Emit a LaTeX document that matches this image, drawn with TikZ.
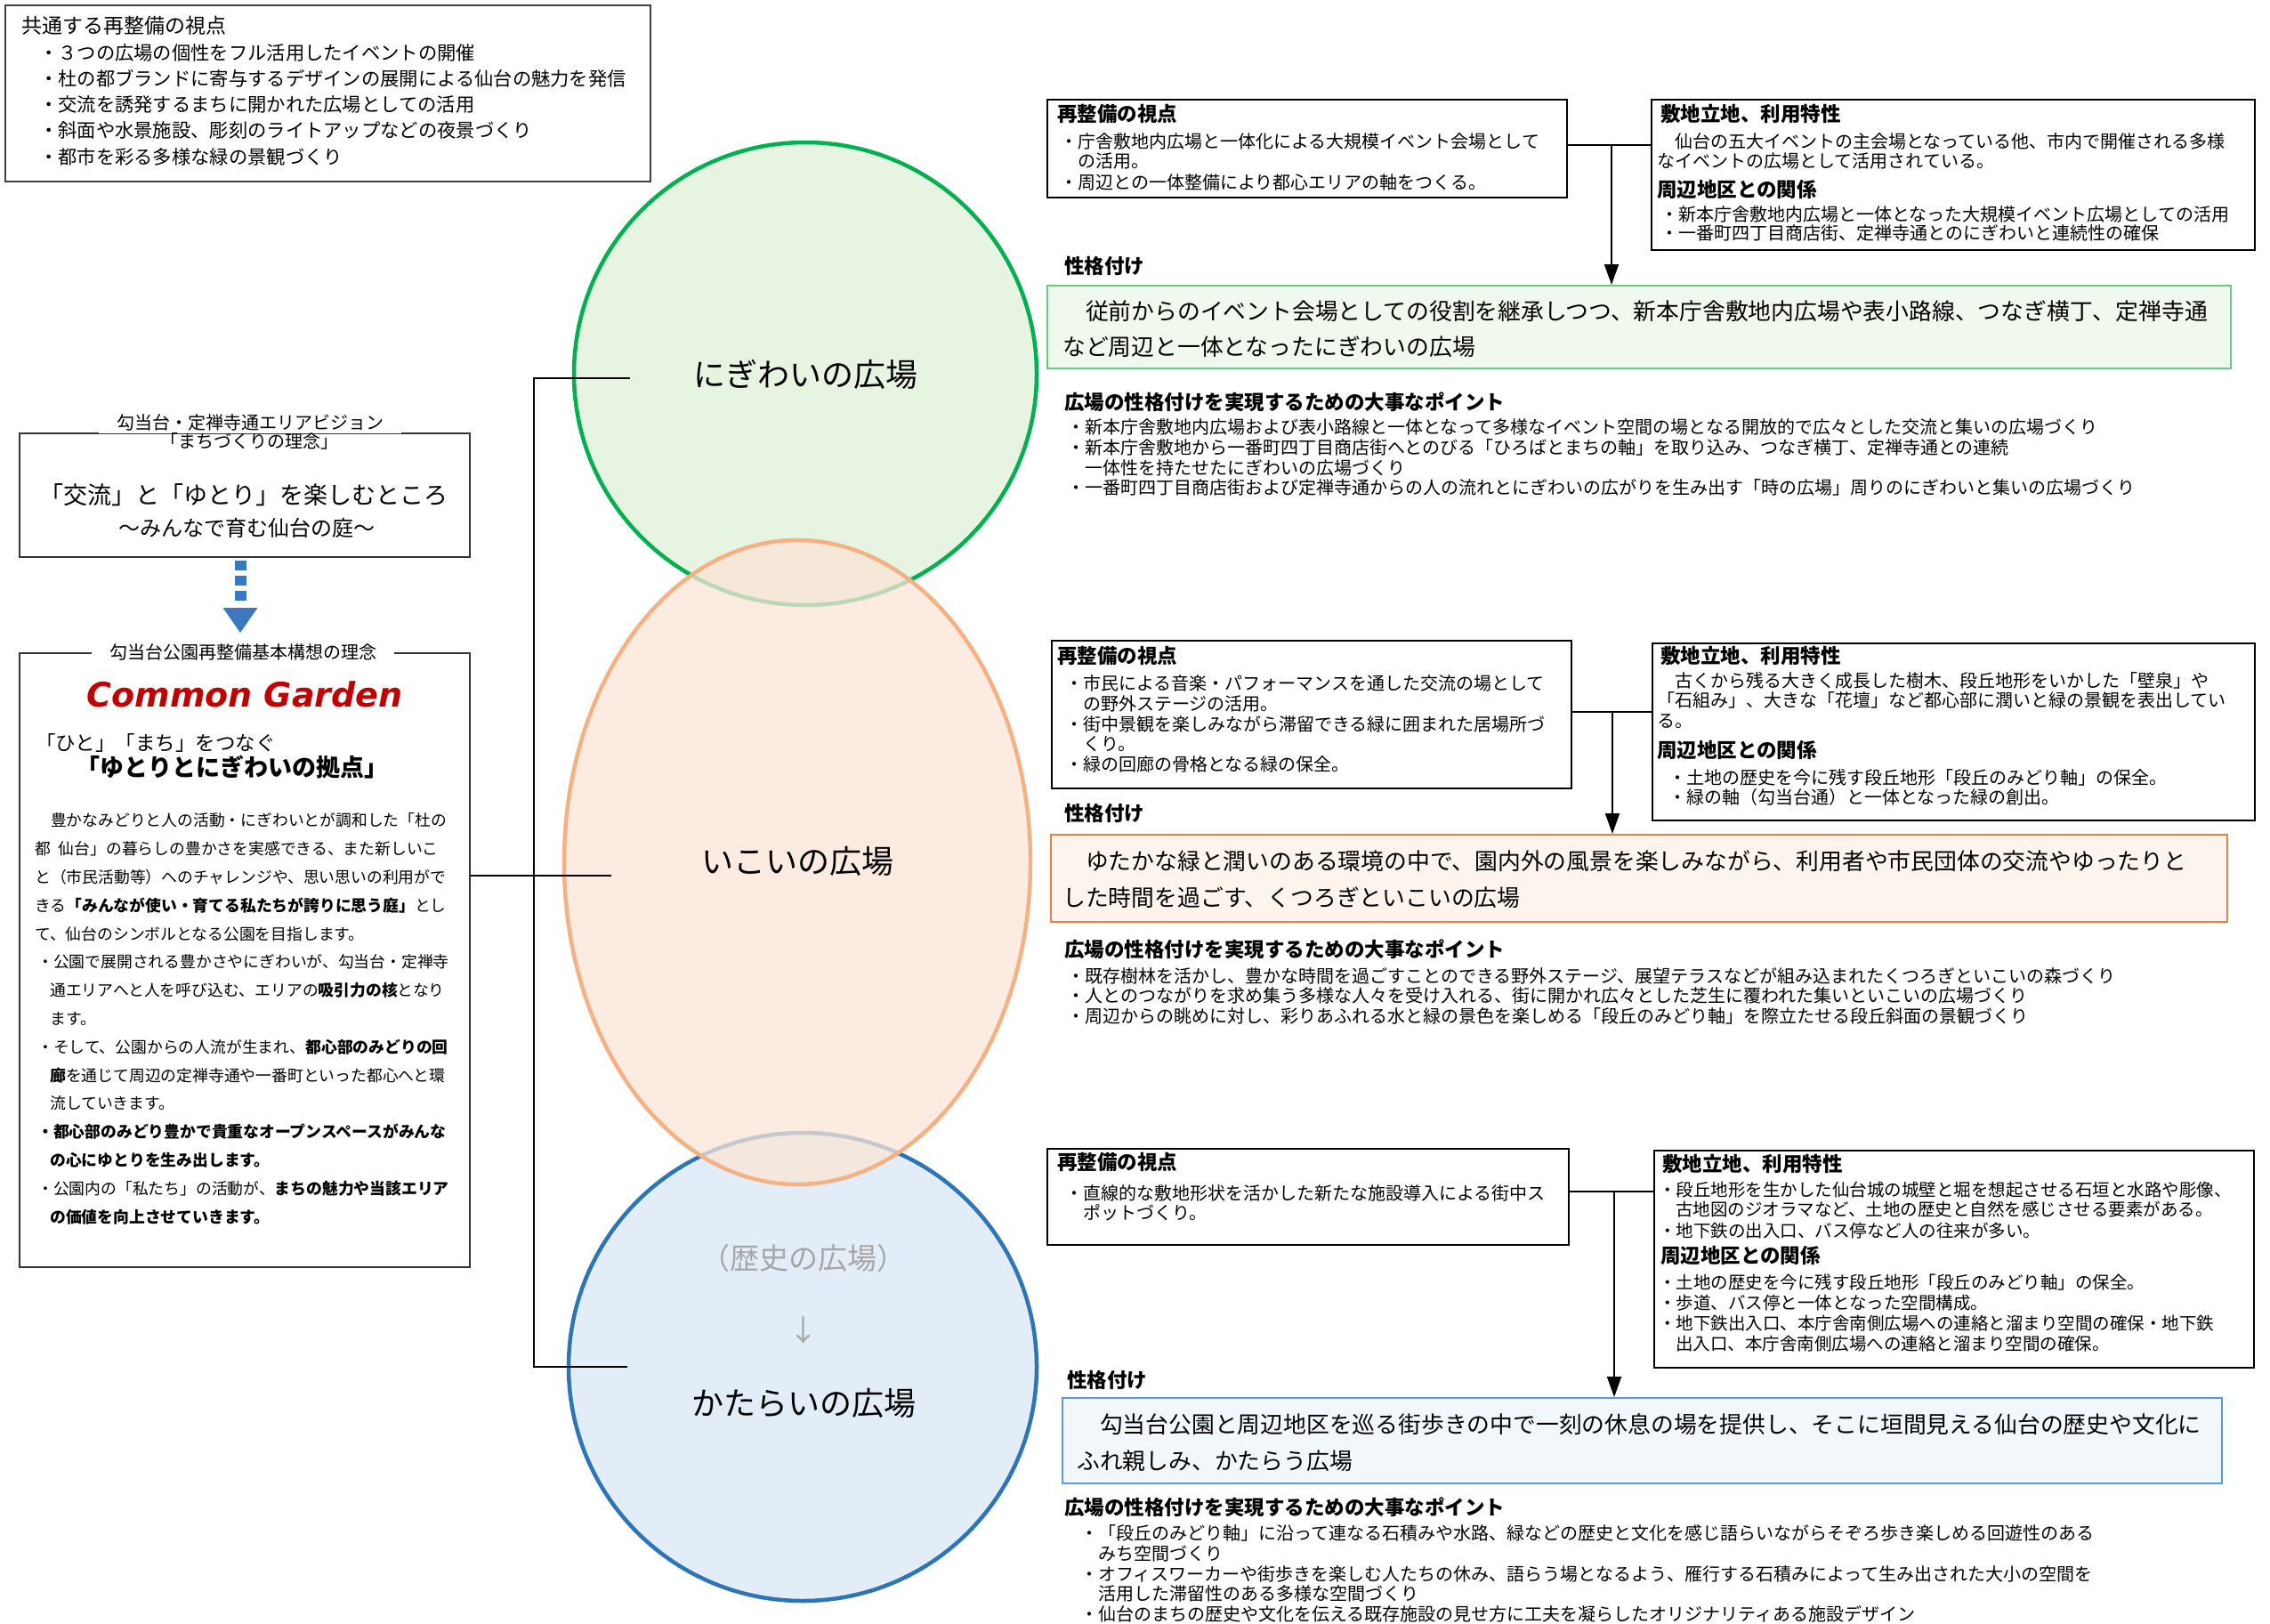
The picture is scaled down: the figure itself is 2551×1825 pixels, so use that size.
\documentclass[tikz,border=0pt]{standalone}
\usepackage{fontspec}
\setmainfont{Noto Sans CJK JP}
\newfontfamily\cgfont{DejaVu Sans}
\usetikzlibrary{arrows.meta}
\definecolor{gStroke}{HTML}{00B050}
\definecolor{gFill}{HTML}{E8F4E2}
\definecolor{oStroke}{HTML}{F4B183}
\definecolor{oFill}{HTML}{FBE5D6}
\definecolor{bStroke}{HTML}{2E75B6}
\definecolor{bFill}{HTML}{E3EDF8}
\definecolor{gBoxLine}{HTML}{6CC58A}
\definecolor{gBoxFill}{HTML}{F1F8EE}
\definecolor{oBoxLine}{HTML}{E5843F}
\definecolor{oBoxFill}{HTML}{FDF4EE}
\definecolor{bBoxLine}{HTML}{5B9BD5}
\definecolor{bBoxFill}{HTML}{F2F7FC}
\definecolor{dashBlue}{HTML}{3A78C2}
\definecolor{histGray}{HTML}{A6A6A6}
\definecolor{cgRed}{HTML}{C00000}
\newcounter{lnc}
\newcommand\Ln[4]{\stepcounter{lnc}\node[ln,#1] (ln\arabic{lnc}) at (#2,#3) {#4};}
\begin{document}
\begin{tikzpicture}[x=1pt,y=-1pt,
 ln/.style={anchor=base west,inner sep=0pt},
 cen/.style={anchor=base},
 fTLh/.style={font=\fontsize{23}{23}\selectfont,yshift=-8.7pt},
 fTL/.style={font=\fontsize{21.3}{21}\selectfont,yshift=-8.1pt},
 fVt/.style={font=\fontsize{20}{20}\selectfont,yshift=-7.6pt},
 fVm/.style={font=\fontsize{27}{27}\selectfont,yshift=-10.3pt},
 fVs/.style={font=\fontsize{24}{24}\selectfont,yshift=-9.1pt},
 fCa/.style={font=\fontsize{22.5}{22}\selectfont,yshift=-8.6pt},
 fCb/.style={font=\fontsize{27}{27}\selectfont\bfseries,yshift=-10.3pt},
 fCB/.style={font=\fontsize{17.8}{18}\selectfont,yshift=-6.8pt},
 fCir/.style={font=\fontsize{36}{36}\selectfont,yshift=-13.7pt},
 fHis/.style={font=\fontsize{33}{33}\selectfont,text=histGray,yshift=-12.5pt},
 fH/.style={font=\fontsize{22.5}{22}\selectfont\bfseries,yshift=-8.6pt},
 fR/.style={font=\fontsize{20}{20}\selectfont,yshift=-7.6pt},
 fRs/.style={font=\fontsize{19.5}{20}\selectfont,yshift=-7.4pt},
 fBox/.style={font=\fontsize{25.8}{26}\selectfont,yshift=-9.8pt},
 pbox/.style={draw=black,line width=1.8pt,fill=white,anchor=north west,inner sep=0pt},
 titlebg/.style={fill=white,inner xsep=20pt,inner ysep=3pt},
 conn/.style={draw=black,line width=2pt},
 arr/.style={-{Triangle[width=16pt,length=23pt]}}
]
\useasboundingbox (0,0) rectangle (2551,1825);
\fill[white] (0,0) rectangle (2551,1825);

% ---------- circles ----------
\draw[draw=gStroke,fill=gFill,line width=4.5pt] (905,420) circle[radius=260pt];
\draw[draw=bStroke,fill=bFill,line width=4.5pt] (902,1536) circle[radius=263pt];
\draw[draw=oStroke,fill=oFill,fill opacity=0.75,line width=4.5pt] (896,969) ellipse[x radius=262pt,y radius=362pt];

% ---------- left column boxes ----------
\node[pbox,draw=black!75,minimum width=725pt,minimum height=198pt] (common) at (5,5) {};
\node[pbox,draw=black!80,minimum width=506pt,minimum height=139pt] (vision) at (21,486) {};
\node[pbox,draw=black!80,minimum width=506pt,minimum height=690pt] (concept) at (21,733) {};

% ---------- right panel boxes ----------
\node[pbox,minimum width=584pt,minimum height=110pt] (A1) at (1176,111) {};
\node[pbox,minimum width=678pt,minimum height=169pt] (B1) at (1855,111) {};
\node[pbox,draw=gBoxLine,fill=gBoxFill,minimum width=1330pt,minimum height=93pt] (G1) at (1176,320) {};
\node[pbox,minimum width=584pt,minimum height=166pt] (A2) at (1181,719) {};
\node[pbox,minimum width=677pt,minimum height=199pt] (B2) at (1856,722) {};
\node[pbox,draw=oBoxLine,fill=oBoxFill,minimum width=1322pt,minimum height=98pt] (O2) at (1180,937) {};
\node[pbox,minimum width=586pt,minimum height=108pt] (A3) at (1176,1290) {};
\node[pbox,minimum width=674pt,minimum height=244pt] (B3) at (1858,1292) {};
\node[pbox,draw=bBoxLine,fill=bBoxFill,minimum width=1303pt,minimum height=96pt] (Bl3) at (1193,1570) {};

% ---------- connectors ----------
\coordinate (bt) at (600,425);
\coordinate (bb) at (600,1536);
\coordinate (et) at (708,425);
\coordinate (eb) at (705,1536);
\coordinate (em) at (687,984);
\draw[conn] (et) -- (bt) -- (bb) -- (eb);
\draw[conn] (concept.east |- em) -- (em);

\coordinate (j1) at (1811,163);
\draw[conn] (j1 -| A1.east) -- (j1 -| B1.west);
\draw[conn,arr] (j1) -- (j1 |- G1.north);
\coordinate (j2) at (1812,800);
\draw[conn] (j2 -| A2.east) -- (j2 -| B2.west);
\draw[conn,arr] (j2) -- (j2 |- O2.north);
\coordinate (j3) at (1814,1339);
\draw[conn] (j3 -| A3.east) -- (j3 -| B3.west);
\draw[conn,arr] (j3) -- (j3 |- Bl3.north);

% blue dashed arrow
\coordinate (da) at (270,630);
\coordinate (db) at (270,675);
\coordinate (dc) at (270,711);
\draw[draw=dashBlue,line width=13pt,dash pattern=on 11pt off 6pt] (da) -- (db);
\fill[dashBlue] ([xshift=-19.5pt]dc |- 0,683) -- ([xshift=19.5pt]dc |- 0,683) -- (dc) -- cycle;

% ---------- common box text ----------
\Ln{fTLh}{24}{29}{共通する再整備の視点}
\Ln{fTL}{44}{59}{・３つの広場の個性をフル活用したイベントの開催}
\Ln{fTL}{44}{88}{・杜の都ブランドに寄与するデザインの展開による仙台の魅力を発信}
\Ln{fTL}{44}{117}{・交流を誘発するまちに開かれた広場としての活用}
\Ln{fTL}{44}{146}{・斜面や水景施設、彫刻のライトアップなどの夜景づくり}
\Ln{fTL}{44}{176}{・都市を彩る多様な緑の景観づくり}

% ---------- vision ----------
\node[ln,cen,fVt,titlebg] (vt1) at (281,475) {勾当台・定禅寺通エリアビジョン};
\Ln{cen,fVt}{280}{496}{「まちづくりの理念」}
\Ln{cen,fVm}{274}{556}{「交流」と「ゆとり」を楽しむところ}
\Ln{cen,fVs}{277}{593}{～みんなで育む仙台の庭～}

% ---------- concept ----------
\node[ln,cen,fVt,titlebg] (ct) at (273,733) {勾当台公園再整備基本構想の理念};
\node[anchor=base,inner sep=0pt,font=\cgfont\fontsize{38}{38}\selectfont\bfseries\itshape,text=cgRed] (cg) at (275,794) {Common Garden};
\Ln{fCa}{40}{835}{「ひと」「まち」をつなぐ}
\Ln{fCb}{85}{862}{「ゆとりとにぎわいの拠点」}
\Ln{fCB}{39}{922}{　豊かなみどりと人の活動・にぎわいとが調和した「杜の}
\Ln{fCB}{39}{953.8}{都\hspace{0.5em}仙台」の暮らしの豊かさを実感できる、また新しいこ}
\Ln{fCB}{39}{985.6}{と（市民活動等）へのチャレンジや、思い思いの利用がで}
\Ln{fCB}{39}{1017.4}{きる\textbf{「みんなが使い・育てる私たちが誇りに思う庭」}とし}
\Ln{fCB}{39}{1049.2}{て、仙台のシンボルとなる公園を目指します。}
\Ln{fCB}{42}{1081}{・公園で展開される豊かさやにぎわいが、勾当台・定禅寺}
\Ln{fCB}{56}{1112.8}{通エリアへと人を呼び込む、エリアの\textbf{吸引力の核}となり}
\Ln{fCB}{56}{1144.6}{ます。}
\Ln{fCB}{42}{1176.4}{・そして、公園からの人流が生まれ、\textbf{都心部のみどりの回}}
\Ln{fCB}{56}{1208.2}{\textbf{廊}を通じて周辺の定禅寺通や一番町といった都心へと環}
\Ln{fCB}{56}{1240}{流していきます。}
\Ln{fCB}{42}{1271.8}{\textbf{・都心部のみどり豊かで貴重なオープンスペースがみんな}}
\Ln{fCB}{56}{1303.6}{\textbf{の心にゆとりを生み出します。}}
\Ln{fCB}{42}{1335.4}{・公園内の「私たち」の活動が、\textbf{まちの魅力や当該エリア}}
\Ln{fCB}{56}{1367.2}{\textbf{の価値を向上させていきます。}}

% ---------- circle labels ----------
\Ln{cen,fCir}{905}{421}{にぎわいの広場}
\Ln{cen,fCir}{896}{968}{いこいの広場}
\Ln{cen,fHis}{903}{1414}{（歴史の広場）}
\Ln{cen,fHis}{903}{1495}{↓}
\Ln{cen,fCir}{903}{1577}{かたらいの広場}

% ---------- panel 1 ----------
\Ln{fH}{1188}{128}{再整備の視点}
\Ln{fR}{1191}{159}{・庁舎敷地内広場と一体化による大規模イベント会場として}
\Ln{fR}{1211}{181}{の活用。}
\Ln{fR}{1191}{205}{・周辺との一体整備により都心エリアの軸をつくる。}
\Ln{fH}{1866}{128}{敷地立地、利用特性}
\Ln{fR}{1862}{159}{　仙台の五大イベントの主会場となっている他、市内で開催される多様}
\Ln{fR}{1862}{181}{なイベントの広場として活用されている。}
\Ln{fH}{1862}{213}{周辺地区との関係}
\Ln{fR}{1866}{241}{・新本庁舎敷地内広場と一体となった大規模イベント広場としての活用}
\Ln{fR}{1866}{262}{・一番町四丁目商店街、定禅寺通とのにぎわいと連続性の確保}
\Ln{fH}{1196}{299}{性格付け}
\Ln{fBox}{1194}{350}{　従前からのイベント会場としての役割を継承しつつ、新本庁舎敷地内広場や表小路線、つなぎ横丁、定禅寺通}
\Ln{fBox}{1194}{390}{など周辺と一体となったにぎわいの広場}
\Ln{fH}{1196}{452}{広場の性格付けを実現するための大事なポイント}
\Ln{fR}{1199}{480}{・新本庁舎敷地内広場および表小路線と一体となって多様なイベント空間の場となる開放的で広々とした交流と集いの広場づくり}
\Ln{fR}{1199}{503}{・新本庁舎敷地から一番町四丁目商店街へとのびる「ひろばとまちの軸」を取り込み、つなぎ横丁、定禅寺通との連続}
\Ln{fR}{1219}{526}{一体性を持たせたにぎわいの広場づくり}
\Ln{fR}{1199}{548}{・一番町四丁目商店街および定禅寺通からの人の流れとにぎわいの広がりを生み出す「時の広場」周りのにぎわいと集いの広場づくり}

% ---------- panel 2 ----------
\Ln{fH}{1188}{737}{再整備の視点}
\Ln{fR}{1197}{768}{・市民による音楽・パフォーマンスを通した交流の場として}
\Ln{fR}{1217}{791}{の野外ステージの活用。}
\Ln{fR}{1197}{814}{・街中景観を楽しみながら滞留できる緑に囲まれた居場所づ}
\Ln{fR}{1217}{836}{くり。}
\Ln{fR}{1197}{859}{・緑の回廊の骨格となる緑の保全。}
\Ln{fH}{1866}{737}{敷地立地、利用特性}
\Ln{fR}{1862}{765}{　古くから残る大きく成長した樹木、段丘地形をいかした「壁泉」や}
\Ln{fR}{1862}{787}{「石組み」、大きな「花壇」など都心部に潤いと緑の景観を表出してい}
\Ln{fR}{1862}{810}{る。}
\Ln{fH}{1862}{843}{周辺地区との関係}
\Ln{fR}{1875}{874}{・土地の歴史を今に残す段丘地形「段丘のみどり軸」の保全。}
\Ln{fR}{1875}{896}{・緑の軸（勾当台通）と一体となった緑の創出。}
\Ln{fH}{1196}{914}{性格付け}
\Ln{fBox}{1194}{968}{　ゆたかな緑と潤いのある環境の中で、園内外の風景を楽しみながら、利用者や市民団体の交流やゆったりと}
\Ln{fBox}{1194}{1009}{した時間を過ごす、くつろぎといこいの広場}
\Ln{fH}{1196}{1067}{広場の性格付けを実現するための大事なポイント}
\Ln{fR}{1199}{1097}{・既存樹林を活かし、豊かな時間を過ごすことのできる野外ステージ、展望テラスなどが組み込まれたくつろぎといこいの森づくり}
\Ln{fR}{1199}{1119}{・人とのつながりを求め集う多様な人々を受け入れる、街に開かれ広々とした芝生に覆われた集いといこいの広場づくり}
\Ln{fR}{1199}{1142}{・周辺からの眺めに対し、彩りあふれる水と緑の景色を楽しめる「段丘のみどり軸」を際立たせる段丘斜面の景観づくり}

% ---------- panel 3 ----------
\Ln{fH}{1188}{1306}{再整備の視点}
\Ln{fR}{1197}{1341}{・直線的な敷地形状を活かした新たな施設導入による街中ス}
\Ln{fR}{1217}{1363}{ポットづくり。}
\Ln{fH}{1868}{1308}{敷地立地、利用特性}
\Ln{fRs}{1864}{1337}{・段丘地形を生かした仙台城の城壁と堀を想起させる石垣と水路や彫像、}
\Ln{fRs}{1883}{1359}{古地図のジオラマなど、土地の歴史と自然を感じさせる要素がある。}
\Ln{fRs}{1864}{1383}{・地下鉄の出入口、バス停など人の往来が多い。}
\Ln{fH}{1866}{1411}{周辺地区との関係}
\Ln{fRs}{1864}{1441}{・土地の歴史を今に残す段丘地形「段丘のみどり軸」の保全。}
\Ln{fRs}{1864}{1464}{・歩道、バス停と一体となった空間構成。}
\Ln{fRs}{1864}{1487}{・地下鉄出入口、本庁舎南側広場への連絡と溜まり空間の確保・地下鉄}
\Ln{fRs}{1883}{1510}{出入口、本庁舎南側広場への連絡と溜まり空間の確保。}
\Ln{fH}{1199}{1551}{性格付け}
\Ln{fBox}{1210}{1601}{　勾当台公園と周辺地区を巡る街歩きの中で一刻の休息の場を提供し、そこに垣間見える仙台の歴史や文化に}
\Ln{fBox}{1210}{1642}{ふれ親しみ、かたらう広場}
\Ln{fH}{1196}{1694}{広場の性格付けを実現するための大事なポイント}
\Ln{fR}{1214}{1723}{・「段丘のみどり軸」に沿って連なる石積みや水路、緑などの歴史と文化を感じ語らいながらそぞろ歩き楽しめる回遊性のある}
\Ln{fR}{1234}{1746}{みち空間づくり}
\Ln{fR}{1214}{1769}{・オフィスワーカーや街歩きを楽しむ人たちの休み、語らう場となるよう、雁行する石積みによって生み出された大小の空間を}
\Ln{fR}{1234}{1791}{活用した滞留性のある多様な空間づくり}
\Ln{fR}{1214}{1814}{・仙台のまちの歴史や文化を伝える既存施設の見せ方に工夫を凝らしたオリジナリティある施設デザイン}
\end{tikzpicture}
\end{document}
